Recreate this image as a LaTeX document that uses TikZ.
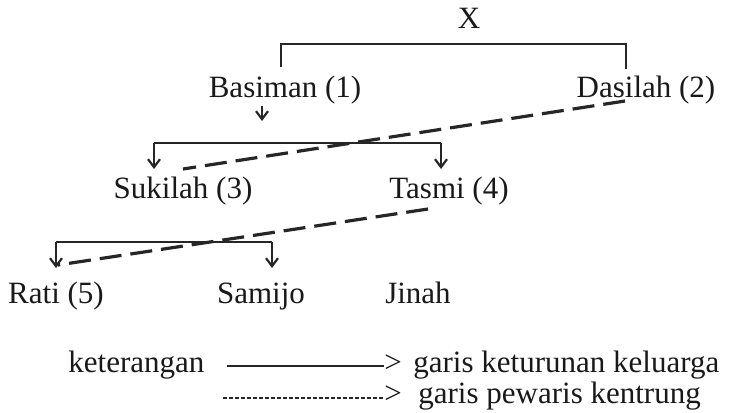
\documentclass[tikz,border=0pt]{standalone}
\usepackage{fontspec}
\setmainfont{Liberation Serif}
\usetikzlibrary{arrows.meta}
\begin{document}
\begin{tikzpicture}[x=0.5pt,y=-0.5pt,
  lbl/.style={anchor=base,inner sep=0pt,font=\fontsize{15.5}{18}\selectfont,text=black!90},
  fam/.style={line width=1.1pt,draw=black!85},
  famarrow/.style={fam,-{Straight Barb[length=4pt,width=6pt]}},
  heir/.style={line width=1.6pt,draw=black!85,dash pattern=on 11pt off 4.5pt},
  finedots/.style={line width=0.7pt,draw=black!85,dash pattern=on 2pt off 1pt}]
\useasboundingbox (0,0) rectangle (742,412);
% names
\node[lbl] (x) at (469,28) {X};
\node[lbl] (bas) at (285,97) {Basiman (1)};
\node[lbl] (das) at (646,97) {Dasilah (2)};
\node[lbl] (suk) at (183,198) {Sukilah (3)};
\node[lbl] (tas) at (449,198) {Tasmi (4)};
\node[lbl] (rat) at (56,303) {Rati (5)};
\node[lbl] (sam) at (261,303) {Samijo};
\node[lbl] (jin) at (418,303) {Jinah};
% bracket under X
\coordinate (b1l) at (281,67);
\coordinate (b1tl) at (281,44);
\coordinate (b1tr) at (626,44);
\coordinate (b1r) at (626,69);
\draw[fam] (b1l) -- (b1tl) -- (b1tr) -- (b1r);
% small arrow under Basiman
\coordinate (ba1) at (262,106);
\coordinate (ba2) at (262,121);
\draw[famarrow] (ba1) -- (ba2);
% bracket to Sukilah / Tasmi
\coordinate (c2l) at (154,143);
\coordinate (c2r) at (441,143);
\coordinate (a2l) at (154,169);
\coordinate (a2r) at (441,169);
\draw[fam] (c2l) -- (c2r);
\draw[famarrow] (c2l) -- (a2l);
\draw[famarrow] (c2r) -- (a2r);
% bracket to Rati / Samijo
\coordinate (c3l) at (56,242);
\coordinate (c3r) at (272,242);
\coordinate (a3l) at (56,268);
\coordinate (a3r) at (272,268);
\draw[fam] (c3l) -- (c3r);
\draw[famarrow] (c3l) -- (a3l);
\draw[famarrow] (c3r) -- (a3r);
% heir lines
\coordinate (d1a) at (625,101);
\coordinate (d1b) at (183,169);
\draw[heir] (d1a) -- (d1b);
\coordinate (d2a) at (428,209);
\coordinate (d2b) at (58,265);
\draw[heir] (d2a) -- (d2b);
% legend
\node[lbl,anchor=base west] (ket) at (68,372) {keterangan};
\node[lbl,anchor=base west] (gt1) at (384,372) {>};
\node[lbl,anchor=base west] (l1) at (413,372) {garis keturunan keluarga};
\node[lbl,anchor=base west] (gt2) at (384,403) {>};
\node[lbl,anchor=base west] (l2) at (418,403) {garis pewaris kentrung};
\coordinate (s1) at (227,366);
\draw[fam,line width=0.9pt] (s1) -- (s1 -| gt1.west);
\coordinate (s2) at (223,398);
\draw[finedots] (s2) -- (s2 -| gt2.west);
\end{tikzpicture}
\end{document}
